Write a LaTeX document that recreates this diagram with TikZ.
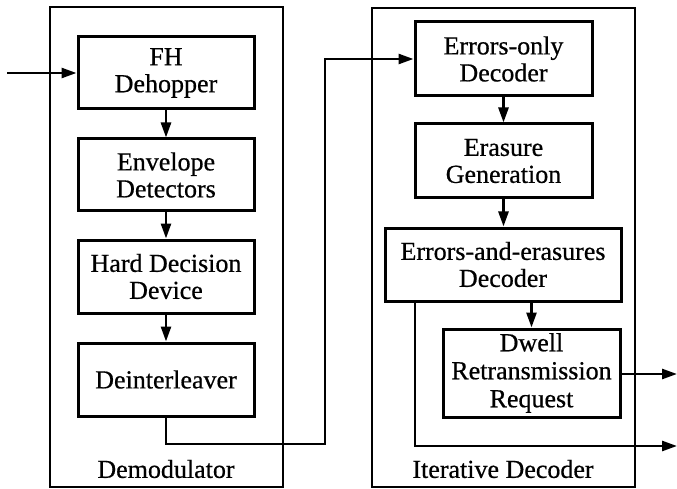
\documentclass[tikz,border=0pt]{standalone}
\usepackage{fontspec}
\setmainfont[FakeBold=0.6,AutoFakeBold=0.6]{Liberation Serif}
\usetikzlibrary{arrows.meta}
\begin{document}
\begin{tikzpicture}[x=1pt,y=-1pt,
  font=\fontsize{26}{27}\selectfont\bfseries,
  blk/.style={draw,line width=3pt,inner sep=0pt,align=center,minimum width=176pt,minimum height=72pt},
  frame/.style={draw,line width=1.1pt},
  wire/.style={line width=2.6pt},
  flow/.style={wire,-{Triangle[length=15pt,width=10pt]}},
  caption/.style={inner sep=0pt}]
\useasboundingbox (0,0) rectangle (677,489);

% enclosing frames
\draw[frame] (50,7) rectangle (283,487);
\draw[frame] (372,8) rectangle (635,487);
\node[caption] (demodlbl) at (166,469) {Demodulator};
\node[caption] (iterlbl) at (503,469) {Iterative Decoder};

% demodulator chain
\node[blk] (fh)  at (166,73)    {FH\\Dehopper};
\node[blk] (env) at (166,175)   {Envelope\\Detectors};
\node[blk,minimum height=73pt] (hdd) at (166,276.5) {Hard Decision\\Device};
\node[blk,minimum height=73pt] (dei) at (166,379.5) {Deinterleaver};

% iterative decoder chain
\node[blk,minimum width=177pt,minimum height=74pt] (eod) at (503.5,59)  {Errors-only\\Decoder};
\node[blk,minimum width=177pt,minimum height=74pt] (eg)  at (503.5,161) {Erasure\\Generation};
\node[blk,minimum width=236pt,minimum height=73pt] (eed) at (503,264.5) {Errors-and-erasures\\Decoder};
\node[blk,minimum width=177pt,minimum height=88pt,font=\fontsize{26}{28}\selectfont\bfseries] (dwell) at (531.5,373) {Dwell\\Retransmission\\Request};

% free ends and bends
\coordinate (in)   at (7,73);
\coordinate (bend) at (325,444);
\coordinate (tap)  at (415,446);
\coordinate (out1) at (677,374);
\coordinate (out2) at (677,446);

% connectors
\draw[flow] (in) -- (fh.west);
\draw[flow] (fh) -- (env);
\draw[flow] (env) -- (hdd);
\draw[flow] (hdd) -- (dei);
\draw[flow] (dei.south) |- (bend) |- (eod.west);
\draw[flow] (eod) -- (eg);
\draw[flow] (eg.south) -- (eg.south |- eed.north);
\draw[flow] (dwell.north |- eed.south) -- (dwell.north);
\draw[flow] (dwell.east |- out1) -- (out1);
\draw[flow] (tap |- eed.south) |- (out2);
\end{tikzpicture}
\end{document}
